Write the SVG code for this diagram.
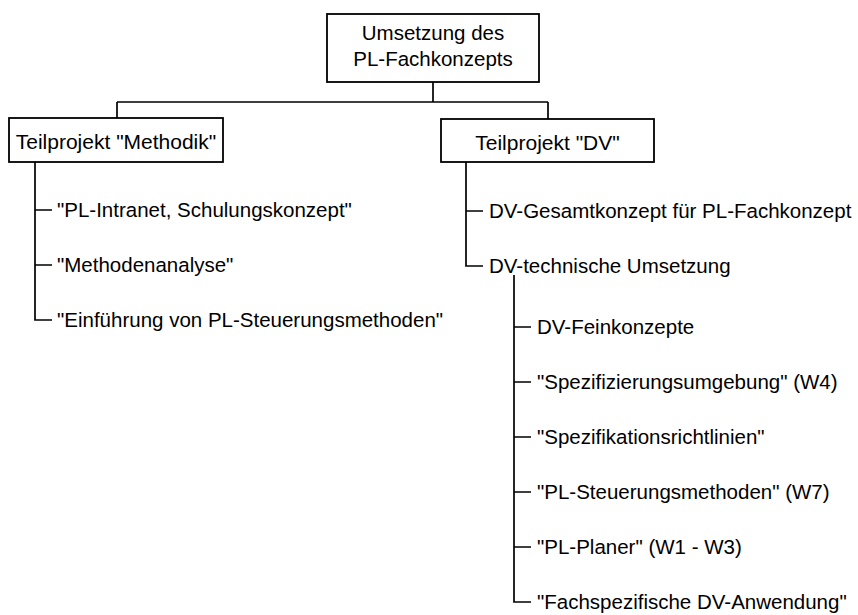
<svg xmlns="http://www.w3.org/2000/svg" width="858" height="615" viewBox="0 0 858 615">
  <style>
    .box { fill: #ffffff; stroke: #000000; stroke-width: 1.8; }
    .conn { fill: none; stroke: #000000; stroke-width: 1.7; }
    text { font-family: "Liberation Sans", Arial, sans-serif; font-size: 20.5px; fill: #000000; }
    .mid { text-anchor: middle; }
    .head { font-size: 21px; }
  </style>
  <rect width="858" height="615" fill="#ffffff"/>

  <!-- tree connectors -->
  <g id="connectors" class="conn">
    <!-- root to the two sub-projects -->
    <path d="M433 82 V102 M117 102 H548 M117 102 V118 M548 102 V119"/>
    <!-- Methodik branch -->
    <path d="M35 162 V320 H52 M35 210 H52 M35 265 H52"/>
    <!-- DV branch -->
    <path d="M466 162 V266 H483 M466 211 H483"/>
    <!-- DV-technische Umsetzung sub-list -->
    <path d="M514 275 V602 H531 M514 327 H531 M514 382 H531 M514 437 H531 M514 492 H531 M514 547 H531"/>
  </g>

  <g id="root">
    <rect class="box" x="327" y="14" width="212" height="68"/>
    <text class="mid" x="433" y="40">Umsetzung des</text>
    <text class="mid" x="433" y="66">PL-Fachkonzepts</text>
  </g>

  <g id="methodik">
    <rect class="box" x="9" y="118" width="214" height="44"/>
    <text class="mid head" x="116" y="149">Teilprojekt "Methodik"</text>
  </g>

  <g id="dv">
    <rect class="box" x="441" y="119" width="213" height="43"/>
    <text class="mid head" x="547.5" y="150">Teilprojekt "DV"</text>
  </g>

  <g id="m-intranet"><text x="57" y="217">"PL-Intranet, Schulungskonzept"</text></g>
  <g id="m-analyse"><text x="57" y="272">"Methodenanalyse"</text></g>
  <g id="m-einfuehrung"><text x="57" y="327">"Einführung von PL-Steuerungsmethoden"</text></g>

  <g id="dv-gesamt"><text x="489" y="218">DV-Gesamtkonzept für PL-Fachkonzept</text></g>
  <g id="dv-technisch"><text x="489" y="273">DV-technische Umsetzung</text></g>

  <g id="dv-fein"><text x="537" y="334">DV-Feinkonzepte</text></g>
  <g id="dv-spezumgebung"><text x="537" y="389">"Spezifizierungsumgebung" (W4)</text></g>
  <g id="dv-richtlinien"><text x="537" y="444">"Spezifikationsrichtlinien"</text></g>
  <g id="dv-steuerung"><text x="537" y="499">"PL-Steuerungsmethoden" (W7)</text></g>
  <g id="dv-planer"><text x="537" y="554">"PL-Planer" (W1 - W3)</text></g>
  <g id="dv-fachanwendung"><text x="537" y="609">"Fachspezifische DV-Anwendung"</text></g>
</svg>
